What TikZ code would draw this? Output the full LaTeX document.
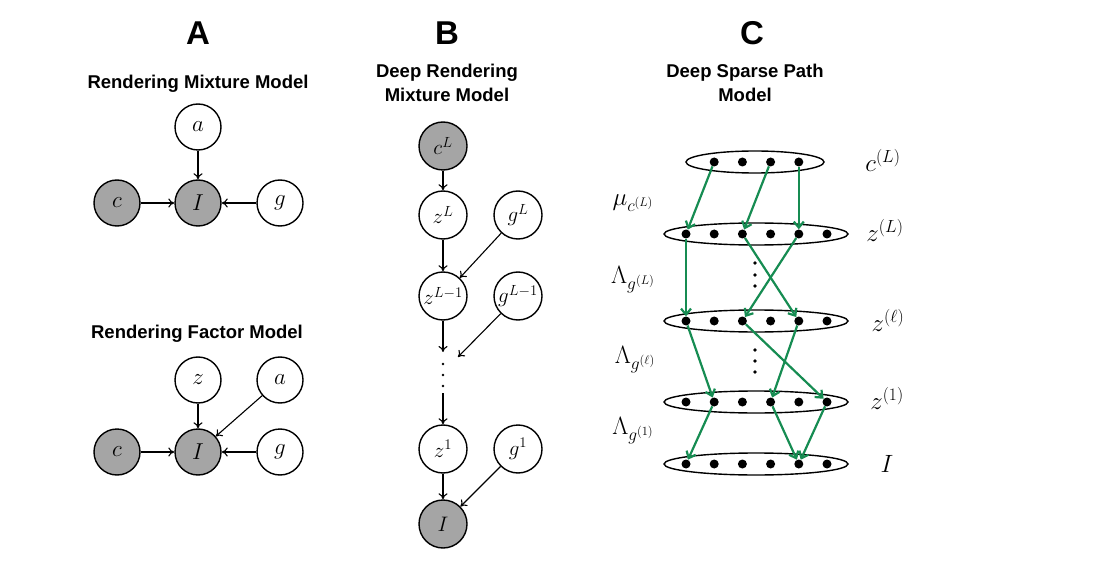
\RequirePackage{fix-cm}
\documentclass[tikz,border=0pt]{standalone}
\usepackage{fontspec}
\usepackage{amsmath}
\usepackage{amssymb}
\usetikzlibrary{arrows.meta,shapes.geometric}
\newfontfamily\headfont{Liberation Sans}
\definecolor{pathgreen}{RGB}{22,140,82}
\definecolor{obsgray}{RGB}{165,165,165}

\begin{document}
\begin{tikzpicture}[x=1pt, y=-1pt,
    var/.style={circle, draw=black, line width=1.4pt, minimum size=46pt, inner sep=0pt,
        font=\fontsize{23}{27}\selectfont},
    obs/.style={var, fill=obsgray},
    deepvar/.style={var, minimum size=48pt, font=\fontsize{21}{25}\selectfont},
    deepobs/.style={deepvar, fill=obsgray},
    edge/.style={-{Computer Modern Rightarrow[length=6pt,width=9pt]}, line width=1.1pt},
    letter/.style={font=\headfont\bfseries\fontsize{33}{36}\selectfont, anchor=base},
    heading/.style={font=\headfont\bfseries\fontsize{18.5}{24}\selectfont, anchor=base, align=center},
    layer/.style={ellipse, draw=black, line width=1.4pt, minimum height=22pt, inner sep=0pt},
    dot/.style={circle, fill=black, minimum size=9pt, inner sep=0pt},
    flow/.style={-{Straight Barb[length=6pt,width=10pt]}, draw=pathgreen, line width=2.2pt},
    lbl/.style={font=\fontsize{25}{30}\selectfont},
    wlbl/.style={font=\fontsize{25}{30}\selectfont}]
    \useasboundingbox (0,0) rectangle (1113,561);

    % panel A
    \node[letter] (hA) at (198,45) {A};
    \node[heading] (tA1) at (198,89) {Rendering Mixture Model};
    \node[var] (a1) at (198,127) {$a$};
    \node[obs] (c1) at (117,203) {$c$};
    \node[obs] (I1) at (198,203) {$I$};
    \node[var] (g1) at (280,203) {$g$};
    \draw[edge] (a1) -- (I1);
    \draw[edge] (c1) -- (I1);
    \draw[edge] (g1) -- (I1);

    \node[heading] (tA2) at (197,338) {Rendering Factor Model};
    \node[var] (z2) at (198,380) {$z$};
    \node[var] (a2) at (280,380) {$a$};
    \node[obs] (c2) at (117,452) {$c$};
    \node[obs] (I2) at (198,452) {$I$};
    \node[var] (g2) at (280,452) {$g$};
    \draw[edge] (z2) -- (I2);
    \draw[edge] (a2) -- (I2);
    \draw[edge] (c2) -- (I2);
    \draw[edge] (g2) -- (I2);

    % panel B
    \node[letter] (hB) at (447,45) {B};
    \node[heading] (tB) at (447,102) {Deep Rendering\\Mixture Model};
    \node[deepobs] (cB) at (443,146) {$c^L$};
    \node[deepvar] (zB1) at (443,215) {$z^L$};
    \node[deepvar] (gB1) at (518,215) {$g^L$};
    \node[deepvar] (zB2) at (443,296) {$z^{L-1}$};
    \node[deepvar] (gB2) at (518,296) {$g^{L-1}$};
    \node[deepvar] (zB3) at (443,449) {$z^1$};
    \node[deepvar] (gB3) at (518,449) {$g^1$};
    \node[deepobs] (IB) at (443,524) {$I$};
    \coordinate (vin) at (443,352);
    \coordinate (gin) at (458,357);
    \coordinate (vout) at (443,393);
    \foreach \y in {364,375,386}
        \fill (443,\y) circle (1.3pt);
    \draw[edge] (cB) -- (zB1);
    \draw[edge] (zB1) -- (zB2);
    \draw[edge] (gB1) -- (zB2);
    \draw[edge] (zB2) -- (vin);
    \draw[edge] (gB2) -- (gin);
    \draw[edge] (vout) -- (zB3);
    \draw[edge] (zB3) -- (IB);
    \draw[edge] (gB3) -- (IB);

    % panel C
    \node[letter] (hC) at (752,45) {C};
    \node[heading] (tC) at (745,102) {Deep Sparse Path\\Model};
    \node[layer, minimum width=138pt] (top) at (755,162) {};
    \node[layer, minimum width=184pt] (lay1) at (756,234) {};
    \node[layer, minimum width=184pt] (lay2) at (756,321) {};
    \node[layer, minimum width=184pt] (lay3) at (756,402) {};
    \node[layer, minimum width=184pt] (lay4) at (756,464) {};
    \foreach \i in {2,...,5}
        \node[dot] (ct\i) at ({686+28.2*(\i-1)},162) {};
    \foreach \i in {1,...,6} {
        \node[dot] (za\i) at ({686+28.2*(\i-1)},234) {};
        \node[dot] (zb\i) at ({686+28.2*(\i-1)},321) {};
        \node[dot] (zc\i) at ({686+28.2*(\i-1)},402) {};
        \node[dot] (im\i) at ({686+28.2*(\i-1)},464) {};
    }
    \foreach \y in {263,275,286,350,361,372}
        \fill (755,\y) circle (1.8pt);
    \draw[flow] (ct2) -- (za1);
    \draw[flow] (ct4) -- (za3);
    \draw[flow] (ct5) -- (za5);
    \draw[flow] (za1) -- (zb1);
    \draw[flow] (za3) -- (zb5);
    \draw[flow] (za5) -- (zb3);
    \draw[flow] (zb1) -- (zc2);
    \draw[flow] (zb3) -- (zc6);
    \draw[flow] (zb5) -- (zc4);
    \draw[flow] (zc2) -- (im1);
    \draw[flow] (zc4) -- (im5);
    \draw[flow] (zc6) -- (im5);

    \node[lbl] (lc) at (883,160) {$c^{(L)}$};
    \node[lbl] (lza) at (885,230) {$z^{(L)}$};
    \node[lbl] (lzb) at (888,320) {$z^{(\ell)}$};
    \node[lbl] (lzc) at (887,398) {$z^{(1)}$};
    \node[lbl] (lim) at (887,464) {$I$};
    \node[wlbl] (wmu) at (633,203) {$\mu_{c^{(L)}}$};
    \node[wlbl] (wa) at (633,280) {$\Lambda_{g^{(L)}}$};
    \node[wlbl] (wb) at (635,360) {$\Lambda_{g^{(\ell)}}$};
    \node[wlbl] (wc) at (633,431) {$\Lambda_{g^{(1)}}$};
\end{tikzpicture}
\end{document}
